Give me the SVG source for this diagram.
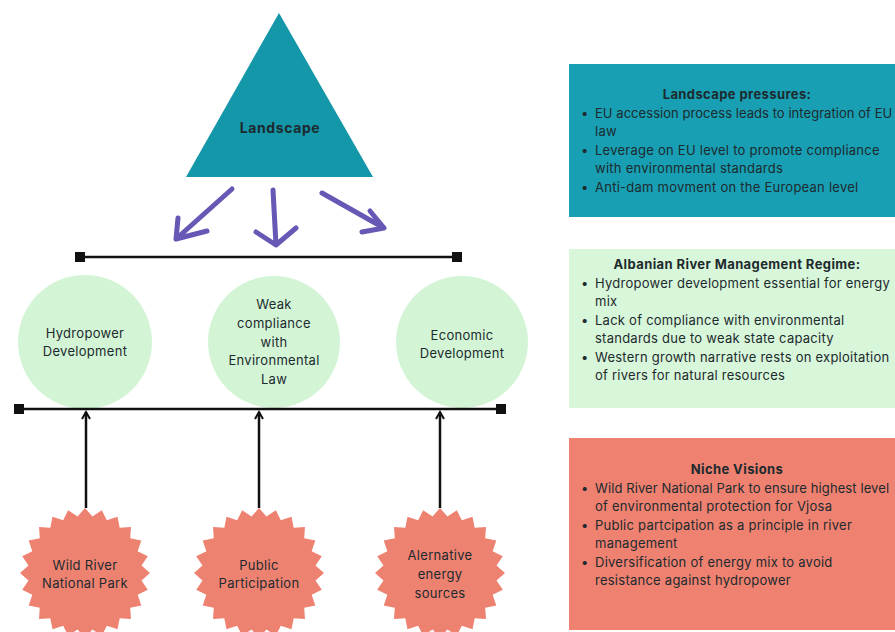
<svg xmlns="http://www.w3.org/2000/svg" width="895" height="632" viewBox="0 0 895 632">
<style>
text{font-family:Inter,"Noto Sans","Liberation Sans",sans-serif;fill:#1d2a2e;}
.n{font-size:13px;text-anchor:middle;letter-spacing:0.3px;}
.t{font-size:13px;text-anchor:middle;font-weight:bold;letter-spacing:0.4px;}
.tl{font-size:14px;text-anchor:middle;font-weight:bold;letter-spacing:0.6px;}
.l{font-size:13px;letter-spacing:0.25px;}
.circ{fill:#d3f5d6;}
.star{fill:#ee8271;}
.bar{stroke:#111;stroke-width:2.5;fill:none;}
.up{stroke:#111;stroke-width:2.5;fill:none;}
.pa{stroke:#6658b4;stroke-width:5;fill:none;stroke-linecap:round;stroke-linejoin:round;}
</style>
<defs>
<polygon id="starShape" points="65,0 56.51,7.44 62.79,16.82 52.66,21.81 56.29,32.5 45.22,34.70 45.96,45.96 34.70,45.22 32.5,56.29 21.81,52.66 16.82,62.79 7.44,56.51 0,65 -7.44,56.51 -16.82,62.79 -21.81,52.66 -32.5,56.29 -34.70,45.22 -45.96,45.96 -45.22,34.70 -56.29,32.5 -52.66,21.81 -62.79,16.82 -56.51,7.44 -65,0 -56.51,-7.44 -62.79,-16.82 -52.66,-21.81 -56.29,-32.5 -45.22,-34.70 -45.96,-45.96 -34.70,-45.22 -32.5,-56.29 -21.81,-52.66 -16.82,-62.79 -7.44,-56.51 0,-65 7.44,-56.51 16.82,-62.79 21.81,-52.66 32.5,-56.29 34.70,-45.22 45.96,-45.96 45.22,-34.70 56.29,-32.5 52.66,-21.81 62.79,-16.82 56.51,-7.44"/>
<marker id="chev" viewBox="0 0 10 10" refX="8" refY="5" markerWidth="4" markerHeight="4" orient="auto" markerUnits="strokeWidth">
<path d="M1,1 L8,5 L1,9" fill="none" stroke="#111" stroke-width="2"/>
</marker>
</defs>

<g id="landscape">
<polygon points="279,13 186,177 373,177" fill="#1497a9"/>
<text class="tl" x="280" y="133">Landscape</text>
</g>

<g id="hydropower">
<circle class="circ" cx="85" cy="342" r="67"/>
<text class="n" x="85" y="338">Hydropower</text>
<text class="n" x="85" y="356">Development</text>
</g>
<g id="weak">
<circle class="circ" cx="274" cy="342" r="66"/>
<text class="n" x="274" y="309">Weak</text>
<text class="n" x="274" y="328">compliance</text>
<text class="n" x="274" y="347">with</text>
<text class="n" x="274" y="365">Environmental</text>
<text class="n" x="274" y="384">Law</text>
</g>
<g id="economic">
<circle class="circ" cx="462" cy="342" r="66"/>
<text class="n" x="462" y="340">Economic</text>
<text class="n" x="462" y="358">Development</text>
</g>

<g id="wildriver">
<use href="#starShape" class="star" x="85" y="573"/>
<text class="n" x="85" y="570">Wild River</text>
<text class="n" x="85" y="588">National Park</text>
</g>
<g id="public">
<use href="#starShape" class="star" x="259" y="573"/>
<text class="n" x="259" y="570">Public</text>
<text class="n" x="259" y="588">Participation</text>
</g>
<g id="alternative">
<use href="#starShape" class="star" x="440" y="573"/>
<text class="n" x="440" y="560">Alernative</text>
<text class="n" x="440" y="579">energy</text>
<text class="n" x="440" y="598">sources</text>
</g>

<g id="connectors">
<path class="pa" d="M232,189 L176,239 M178,218 L176,239 L207,231"/>
<path class="pa" d="M273,190 L276,245 M256,232 L276,245 L296,228"/>
<path class="pa" d="M322,193 L384,228 M370,211 L384,228 L362,232"/>
<line class="bar" x1="80" y1="257" x2="457" y2="257"/>
<rect x="75" y="252" width="10" height="10" fill="#111"/>
<rect x="452" y="252" width="10" height="10" fill="#111"/>
<line class="bar" x1="19" y1="409" x2="501" y2="409"/>
<rect x="14" y="404" width="10" height="10" fill="#111"/>
<rect x="496" y="404" width="10" height="10" fill="#111"/>
<line class="up" x1="86" y1="508" x2="86" y2="412" marker-end="url(#chev)"/>
<line class="up" x1="259" y1="508" x2="259" y2="412" marker-end="url(#chev)"/>
<line class="up" x1="440" y1="508" x2="440" y2="412" marker-end="url(#chev)"/>
</g>

<g id="box-landscape">
<rect x="569" y="64" width="330" height="153" fill="#189fb3"/>
<text class="t" x="737" y="99">Landscape pressures:</text>
<text class="l" x="581" y="118">•</text><text class="l" x="595" y="118" style="letter-spacing:0.05px">EU accession process leads to integration of EU</text>
<text class="l" x="595" y="136">law</text>
<text class="l" x="581" y="155">•</text><text class="l" x="595" y="155">Leverage on EU level to promote compliance</text>
<text class="l" x="595" y="173">with environmental standards</text>
<text class="l" x="581" y="192">•</text><text class="l" x="595" y="192">Anti-dam movment on the European level</text>
</g>

<g id="box-regime">
<rect x="569" y="249" width="330" height="159" fill="#d8f6d9"/>
<text class="t" x="737" y="269">Albanian River Management Regime:</text>
<text class="l" x="581" y="288">•</text><text class="l" x="595" y="288">Hydropower development essential for energy</text>
<text class="l" x="595" y="306">mix</text>
<text class="l" x="581" y="325">•</text><text class="l" x="595" y="325">Lack of compliance with environmental</text>
<text class="l" x="595" y="343">standards due to weak state capacity</text>
<text class="l" x="581" y="362">•</text><text class="l" x="595" y="362">Western growth narrative rests on exploitation</text>
<text class="l" x="595" y="380">of rivers for natural resources</text>
</g>

<g id="box-niche">
<rect x="569" y="438" width="330" height="192" fill="#ee8170"/>
<text class="t" x="737" y="474">Niche Visions</text>
<text class="l" x="581" y="493">•</text><text class="l" x="595" y="493" style="letter-spacing:0.1px">Wild River National Park to ensure highest level</text>
<text class="l" x="595" y="511">of environmental protection for Vjosa</text>
<text class="l" x="581" y="530">•</text><text class="l" x="595" y="530">Public partcipation as a principle in river</text>
<text class="l" x="595" y="548">management</text>
<text class="l" x="581" y="567">•</text><text class="l" x="595" y="567">Diversification of energy mix to avoid</text>
<text class="l" x="595" y="585">resistance against hydropower</text>
</g>
</svg>
